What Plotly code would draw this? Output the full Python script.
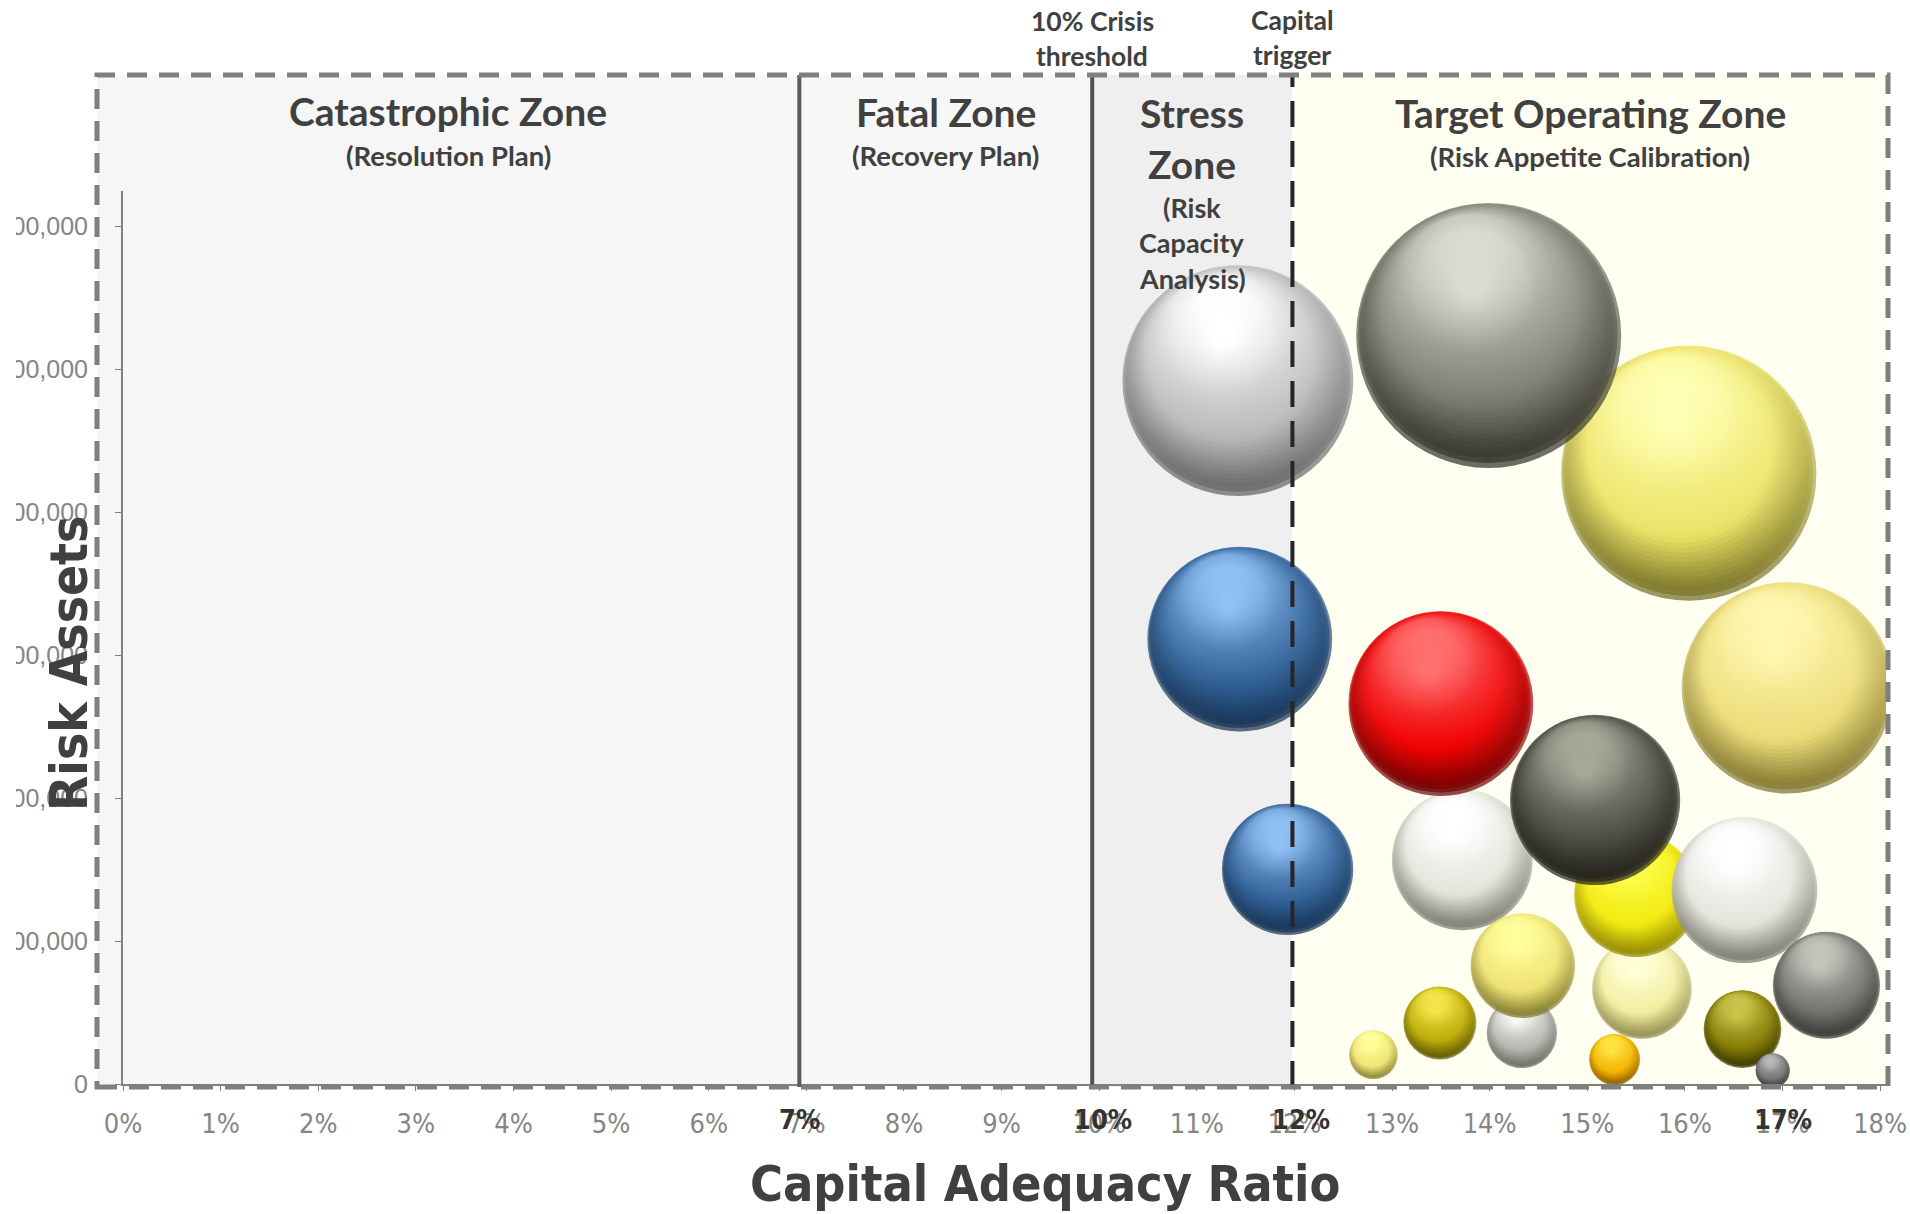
import numpy as np
import plotly.graph_objects as go

# ---------------------------------------------------------------- data
car_ticks = list(range(0, 19))                      # capital adequacy ratio, %
car_tick_labels = [f"{t}%" for t in car_ticks]
asset_ticks = [0, 100000, 200000, 300000, 400000, 500000, 600000]

resolution_limit = 7       # below: catastrophic zone
crisis_threshold = 10      # 10% crisis threshold
capital_trigger = 12       # capital trigger
emphasised_ticks = [7, 10, 12, 17]

# banks, listed back to front
bank_car = [16.04, 17.05, 13.99, 11.42, 11.44, 13.72, 15.56, 15.50, 13.50, 15.08,
            17.45, 16.61, 14.33, 14.34, 11.93, 13.49, 16.59, 16.90, 12.81, 15.28]
bank_assets = [427500, 277300, 523900, 492300, 311400, 157000, 66600, 132300, 266200, 198800,
               69100, 135700, 35800, 82800, 150200, 42700, 38400, 9400, 20500, 17100]
bank_capital = [1102, 757, 1188, 902, 578, 336, 168, 260, 578, 490,
                194, 360, 84, 185, 292, 90, 102, 20, 40, 44]
bank_edge = ["#6e6820", "#7a6e28", "#2c2c24", "#5e5e5e", "#142e4e", "#747468", "#8a8648", "#8a8000",
             "#640000", "#1c1c16", "#34342f", "#727268", "#66665e", "#7a742a", "#142e4e", "#585000",
             "#363200", "#363636", "#847c30", "#8c5600"]
bank_base = ["#ece366", "#ecdc78", "#7c7c70", "#b8b8b8", "#2f5f95", "#e4e4dc", "#f2eea0", "#f2ea10",
             "#f00000", "#4a4a42", "#727270", "#e4e4dc", "#b4b4ae", "#efe274", "#2f5f95", "#bcac08",
             "#847c04", "#747474", "#f0e474", "#f4b400"]
bank_light = ["#ffffb4", "#fff6b0", "#dcdcd0", "#ffffff", "#90c0f6", "#ffffff", "#ffffd8", "#ffff50",
              "#ff7070", "#a8a89a", "#c4c4bc", "#ffffff", "#f8f8f4", "#ffff9c", "#90c0f6", "#f4e64a",
              "#ccc44a", "#b8b8b8", "#ffff9c", "#ffe444"]

# ---------------------------------------------------------------- geometry
W, H = 1910, 1214
ML, MR, MT, MB = 123, 24, 191, 130
X_RANGE = [0, 18.06]
Y_RANGE = [0, 625000]
PW, PH = W - ML - MR, H - MT - MB
PX_PER_X = PW / (X_RANGE[1] - X_RANGE[0])
PX_PER_Y = PH / (Y_RANGE[1] - Y_RANGE[0])
MAX_DIAM = 265.0


def xp(px):
    return (px - ML) / PW


def yp(py):
    return (H - MB - py) / PH


def xd(x, nudge_px=0):
    return (x - X_RANGE[0]) / (X_RANGE[1] - X_RANGE[0]) + nudge_px / PW


BOX_L, BOX_R, BOX_T, BOX_B = xp(97), xp(1888), yp(75), yp(1087)
X_RES, X_CRI, X_TRG = xd(resolution_limit, -7), xd(crisis_threshold, -7), xd(capital_trigger, -2)

DARK = "#404040"
TITLE_FONT = "Lato, 'Open Sans', sans-serif"
NARROW_FONT = "'Liberation Sans Narrow', 'DejaVu Sans Condensed', 'Arial Narrow', sans-serif"


def hex_rgb(h):
    h = h.lstrip("#")
    return np.array([int(h[i:i + 2], 16) for i in (0, 2, 4)], dtype=float)


def shade(i, s):
    """Sphere colour at depth s (0 = rim, 0.9 = specular spot)."""
    s = min(max(s, 0.0), 0.9)
    stops = [(0.0, hex_rgb(bank_edge[i])), (0.26, hex_rgb(bank_base[i])),
             (0.9, hex_rgb(bank_light[i]))]
    for (s0, c0), (s1, c1) in zip(stops[:-1], stops[1:]):
        if s <= s1:
            u = (s - s0) / (s1 - s0)
            c = c0 + (c1 - c0) * u
            return "rgb(%d,%d,%d)" % tuple(np.clip(c, 0, 255).round())
    return "rgb(%d,%d,%d)" % tuple(stops[-1][1])


fig = go.Figure()

# ---------------------------------------------------------------- shaded spheres
# each sphere is a stack of shrinking discs sliding towards the light;
# every disc is lit from above (vertical gradient) so the lit rim stays soft
N_LAYERS = 44
LIGHT_DIR = np.array([-0.32, 0.95])   # towards the light, screen x right / y up
HILITE = 0.4                          # specular spot offset, fraction of radius
SLIDE = 0.85                          # how closely outer shells hug the lit side
TOP_LIFT = 0.32                       # extra depth applied to the upper half of a disc
sizeref = 2.0 * max(bank_capital) / MAX_DIAM ** 2
for i in range(len(bank_car)):
    r_px = np.sqrt(2.0 * bank_capital[i] / sizeref) / 2
    depth = np.linspace(0, 0.9, N_LAYERS)
    frac = 1 - depth
    shift = np.minimum(SLIDE * depth, HILITE)
    xs = bank_car[i] + shift * LIGHT_DIR[0] * r_px / PX_PER_X
    ys = bank_assets[i] + shift * LIGHT_DIR[1] * r_px / PX_PER_Y
    sizes = bank_capital[i] * frac ** 2
    tops = [shade(i, s + TOP_LIFT) for s in depth]
    bottoms = [shade(i, s) for s in depth]
    fig.add_trace(go.Scatter(
        x=xs, y=ys, mode="markers", hoverinfo="skip", showlegend=False,
        marker=dict(size=sizes, sizemode="area", sizeref=sizeref, color=tops,
                    gradient=dict(type="vertical", color=bottoms), line=dict(width=0)),
    ))

# ---------------------------------------------------------------- zones
zone_fills = [
    (BOX_L, X_RES, "#f6f6f6"),
    (X_RES, X_CRI, "#f7f7f7"),
    (X_CRI, X_TRG, "#efefef"),
    (X_TRG, BOX_R, "#fefef1"),
]
shapes = []
for x0, x1, col in zone_fills:
    shapes.append(dict(type="rect", xref="paper", yref="paper", x0=x0, x1=x1, y0=BOX_B, y1=BOX_T,
                       fillcolor=col, line=dict(width=0), layer="below"))
for xv, col, dash in [(X_RES, "#5a5a5a", "solid"), (X_CRI, "#505050", "solid"),
                      (X_TRG, "#262626", "26px,14px")]:
    shapes.append(dict(type="line", xref="paper", yref="paper", x0=xv, x1=xv,
                       y0=BOX_B, y1=BOX_T, line=dict(color=col, width=4, dash=dash), layer="above"))
shapes.append(dict(type="rect", xref="paper", yref="paper", x0=BOX_L, x1=BOX_R, y0=BOX_B, y1=BOX_T,
                   line=dict(color="#7f7f7f", width=5, dash="20px,12px"), layer="above"))
# the page edge trims the leading digit of the asset labels
shapes.append(dict(type="rect", xref="paper", yref="paper", x0=xp(-40), x1=xp(16), y0=yp(1070), y1=yp(180),
                   fillcolor="white", line=dict(width=0), layer="above"))

ann = []


def label(text, x, py, size, xref="paper", bold=True, color=DARK, family=TITLE_FONT, **kw):
    ann.append(dict(text=text, x=x, y=yp(py), xref=xref, yref="paper", showarrow=False,
                    xanchor="center", yanchor="middle",
                    font=dict(family=family, size=size, color=color,
                              weight="bold" if bold else "normal"), **kw))


def mid(a, b):
    return (a + b) / 2


cat_c = mid(BOX_L, X_RES)
fat_c = mid(X_RES, X_CRI)
str_c = mid(X_CRI, X_TRG)
tgt_c = mid(X_TRG, BOX_R)

label("Catastrophic Zone", cat_c, 111, 39)
label("(Resolution Plan)", cat_c, 155, 27.5)
label("Fatal Zone", fat_c, 112, 39)
label("(Recovery Plan)", fat_c, 156, 27.5)
label("Stress", str_c, 113, 39)
label("Zone", str_c, 164, 39)
label("(Risk", str_c, 207, 27)
label("Capacity", str_c, 242, 27)
label("Analysis)", str_c, 278, 27)
label("Target Operating Zone", tgt_c, 113, 39)
label("(Risk Appetite Calibration)", tgt_c, 157, 27.5)

label("10% Crisis", X_CRI, 21, 26.5)
label("threshold", X_CRI, 56, 26.5)
label("Capital", X_TRG, 20, 26.5)
label("trigger", X_TRG, 55, 26.5)

# emphasised threshold ticks
for xv, shift in zip(emphasised_ticks, [-7, 4, 7, 0]):
    label(f"{xv}%", xv, 1119, 27, xref="x", family=NARROW_FONT, color="#333333", xshift=shift)

label("Capital Adequacy Ratio", xp(1045), 1184, 50, family=NARROW_FONT)
label("Risk Assets", xp(69), 664, 51, family=NARROW_FONT, textangle=-90)

fig.update_layout(
    width=W, height=H, margin=dict(l=ML, r=MR, t=MT, b=MB, pad=0),
    paper_bgcolor="white", plot_bgcolor="rgba(0,0,0,0)",
    showlegend=False, shapes=shapes, annotations=ann,
    xaxis=dict(range=X_RANGE, tickvals=car_ticks, ticktext=car_tick_labels,
               showgrid=False, zeroline=False, showline=True, linecolor="#808080", linewidth=2,
               ticks="outside", ticklen=5, tickcolor="#808080", ticklabelstandoff=10,
               tickfont=dict(family=NARROW_FONT, size=27, color="#858585"), automargin=False),
    yaxis=dict(range=Y_RANGE, tickvals=asset_ticks, tickformat=",",
               showgrid=False, zeroline=False, showline=True, linecolor="#808080", linewidth=2,
               ticks="outside", ticklen=6, tickcolor="#808080", ticklabelstandoff=22,
               tickfont=dict(family="'Liberation Sans', Arial, sans-serif", size=25, color="#858585"),
               automargin=False),
)

fig.write_html("out.html")
